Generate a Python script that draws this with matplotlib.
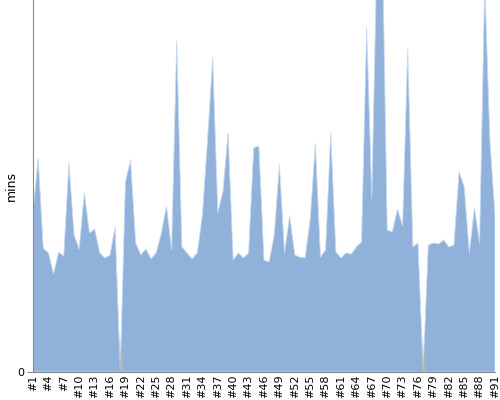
import numpy as np
import matplotlib
matplotlib.use("Agg")
import matplotlib.pyplot as plt

labels = [f"#{i}" for i in range(1, 92)]
mins = [53, 71.3, 41.3, 39.7, 32.7, 40, 38.7, 69.7, 45.7, 41,
        59.7, 46.3, 47.7, 39.7, 38, 39, 48.3, 0, 63.3, 70.7,
        43, 39, 41, 37.7, 39.7, 46.3, 55.3, 40.7, 110.3, 41.7,
        39.7, 37.7, 39.7, 52.3, 77.3, 104.7, 53.3, 60, 79.7, 37.3,
        39.7, 38, 39.7, 74.7, 75.3, 37.3, 36.7, 45.7, 69, 39.7,
        52, 39, 38.3, 38, 50.7, 76, 38.3, 40.7, 79.7, 40,
        38, 39.7, 39.3, 41.7, 43.3, 114.7, 58, 140, 150, 47.3,
        46.7, 54.3, 48.7, 107.7, 41.7, 43, 0, 42.3, 43, 42.7,
        44, 41.7, 42.3, 66.7, 61.7, 39.7, 54.7, 43, 130, 77.3,
        52.3]
tick_step = 3

fig = plt.figure(figsize=(5, 4), dpi=100)
ax = fig.add_axes([0.066, 0.07, 0.924, 0.93])
x = np.arange(len(mins))
y = np.array(mins, dtype=float)

ax.fill_between(x, 0, y, color="#8fb1da", linewidth=0.6, edgecolor="#c9daf0", zorder=2)

# faint grey shading at the bottom of the zero dips
n = 60
img = np.zeros((n, 1, 4))
img[:, 0, :3] = 0.72
img[:, 0, 3] = np.linspace(1.0, 0.0, n) ** 1.5
for xi in x[y == 0]:
    ax.imshow(img, extent=[xi - 0.3, xi + 0.3, 0, 14], aspect="auto",
              zorder=3, origin="lower", interpolation="bilinear")

ax.set_xlim(0, len(mins) - 1)
ax.set_ylim(0, 124)
ax.set_xticks(x[::tick_step])
ax.set_xticklabels(labels[::tick_step], rotation=90, fontsize=8)
ax.set_yticks([0])
ax.set_yticklabels(["0"], fontsize=8)
ax.set_ylabel("mins", fontsize=9, labelpad=0)
for s in ["top", "right"]:
    ax.spines[s].set_visible(False)
for s in ["left", "bottom"]:
    ax.spines[s].set_color("#888888")
ax.tick_params(axis="x", length=0, pad=2)
ax.tick_params(axis="y", length=4, color="#888888", pad=2)

fig.savefig("out.png", dpi=100)
